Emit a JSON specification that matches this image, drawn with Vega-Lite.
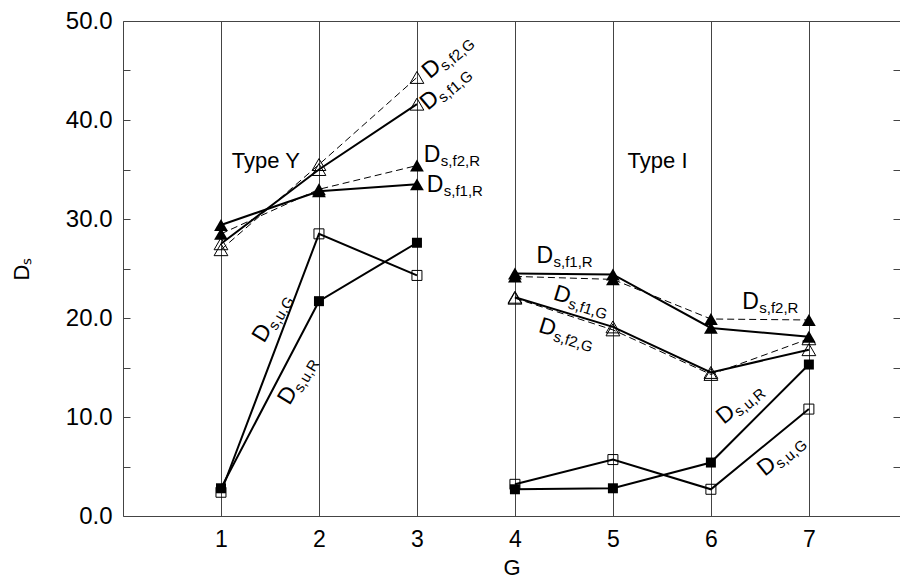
{
  "$schema": "https://vega.github.io/schema/vega-lite/v6.json",
  "width": 777,
  "height": 495,
  "autosize": {"type": "none"},
  "padding": {"left": 123, "top": 21, "right": 0, "bottom": 65},
  "background": "white",
  "config": {
    "view": {"stroke": "#444444", "strokeWidth": 1},
    "font": "Liberation Sans",
    "text": {"font": "Liberation Sans", "color": "black"}
  },
  "datasets": {
    "pts": [
      {"G": 1, "v": 29.4, "series": "f1R", "type": "Y"},
      {"G": 2, "v": 32.8, "series": "f1R", "type": "Y"},
      {"G": 3, "v": 33.5, "series": "f1R", "type": "Y"},
      {"G": 1, "v": 28.5, "series": "f2R", "type": "Y"},
      {"G": 2, "v": 33.0, "series": "f2R", "type": "Y"},
      {"G": 3, "v": 35.4, "series": "f2R", "type": "Y"},
      {"G": 1, "v": 27.5, "series": "f1G", "type": "Y"},
      {"G": 2, "v": 35.0, "series": "f1G", "type": "Y"},
      {"G": 3, "v": 41.6, "series": "f1G", "type": "Y"},
      {"G": 1, "v": 26.9, "series": "f2G", "type": "Y"},
      {"G": 2, "v": 35.5, "series": "f2G", "type": "Y"},
      {"G": 3, "v": 44.3, "series": "f2G", "type": "Y"},
      {"G": 1, "v": 2.8, "series": "uR", "type": "Y"},
      {"G": 2, "v": 21.7, "series": "uR", "type": "Y"},
      {"G": 3, "v": 27.6, "series": "uR", "type": "Y"},
      {"G": 1, "v": 2.4, "series": "uG", "type": "Y"},
      {"G": 2, "v": 28.5, "series": "uG", "type": "Y"},
      {"G": 3, "v": 24.3, "series": "uG", "type": "Y"},
      {"G": 4, "v": 24.5, "series": "f1R", "type": "I"},
      {"G": 5, "v": 24.4, "series": "f1R", "type": "I"},
      {"G": 6, "v": 19.0, "series": "f1R", "type": "I"},
      {"G": 7, "v": 18.1, "series": "f1R", "type": "I"},
      {"G": 4, "v": 24.2, "series": "f2R", "type": "I"},
      {"G": 5, "v": 23.9, "series": "f2R", "type": "I"},
      {"G": 6, "v": 19.9, "series": "f2R", "type": "I"},
      {"G": 7, "v": 19.8, "series": "f2R", "type": "I"},
      {"G": 4, "v": 22.1, "series": "f1G", "type": "I"},
      {"G": 5, "v": 19.1, "series": "f1G", "type": "I"},
      {"G": 6, "v": 14.5, "series": "f1G", "type": "I"},
      {"G": 7, "v": 16.8, "series": "f1G", "type": "I"},
      {"G": 4, "v": 22.0, "series": "f2G", "type": "I"},
      {"G": 5, "v": 18.8, "series": "f2G", "type": "I"},
      {"G": 6, "v": 14.3, "series": "f2G", "type": "I"},
      {"G": 7, "v": 17.9, "series": "f2G", "type": "I"},
      {"G": 4, "v": 2.7, "series": "uR", "type": "I"},
      {"G": 5, "v": 2.8, "series": "uR", "type": "I"},
      {"G": 6, "v": 5.4, "series": "uR", "type": "I"},
      {"G": 7, "v": 15.3, "series": "uR", "type": "I"},
      {"G": 4, "v": 3.2, "series": "uG", "type": "I"},
      {"G": 5, "v": 5.7, "series": "uG", "type": "I"},
      {"G": 6, "v": 2.7, "series": "uG", "type": "I"},
      {"G": 7, "v": 10.8, "series": "uG", "type": "I"}
    ],
    "labs": [
      {"G": 3.13, "v": 44.1, "sub": "s,f2,G", "grp": "a"},
      {"G": 3.11, "v": 40.9, "sub": "s,f1,G", "grp": "a"},
      {"G": 3.07, "v": 35.75, "sub": "s,f2,R", "grp": "h"},
      {"G": 3.10, "v": 32.7, "sub": "s,f1,R", "grp": "h"},
      {"G": 1.44, "v": 17.4, "sub": "s,u,G", "grp": "b"},
      {"G": 1.70, "v": 11.1, "sub": "s,u,R", "grp": "b"},
      {"G": 4.22, "v": 25.55, "sub": "s,f1,R", "grp": "h"},
      {"G": 4.38, "v": 21.9, "sub": "s,f1,G", "grp": "c"},
      {"G": 4.23, "v": 18.6, "sub": "s,f2,G", "grp": "c"},
      {"G": 6.32, "v": 20.9, "sub": "s,f2,R", "grp": "h"},
      {"G": 6.13, "v": 9.2, "sub": "s,u,R", "grp": "d"},
      {"G": 6.55, "v": 3.95, "sub": "s,u,G", "grp": "d"}
    ],
    "types": [
      {"G": 1.11, "v": 35.15, "t": "Type Y"},
      {"G": 5.15, "v": 35.15, "t": "Type I"}
    ]
  },
  "layer": [
    {
      "data": {"name": "pts"},
      "transform": [{"filter": {"field": "series", "oneOf": ["f1R", "f1G", "uR", "uG"]}}],
      "mark": {"type": "line", "color": "black", "strokeWidth": 2},
      "encoding": {
        "x": {"field": "G", "type": "quantitative",
          "scale": {"domain": [0, 7.93], "nice": false, "zero": false},
          "axis": {"values": [1, 2, 3, 4, 5, 6, 7], "format": "d", "grid": true, "gridColor": "#444444", "gridWidth": 1, "gridOpacity": 1,
            "ticks": false, "domain": false, "labelFont": "Liberation Sans", "labelFontSize": 23, "labelColor": "black", "labelPadding": 12,
            "title": "G", "titleFont": "Liberation Sans", "titleFontSize": 22, "titleFontWeight": "normal", "titleColor": "black", "titlePadding": 6}},
        "y": {"field": "v", "type": "quantitative",
          "scale": {"domain": [0, 50], "nice": false},
          "axis": {"orient": "left", "values": [0, 5, 10, 15, 20, 25, 30, 35, 40, 45, 50],
            "labelExpr": "datum.value % 10 === 0 ? format(datum.value, '.1f') : ''",
            "grid": false, "domain": false, "ticks": true, "tickSize": -7, "tickColor": "#444444", "tickWidth": 1,
            "labelFont": "Liberation Sans", "labelFontSize": 24, "labelColor": "black", "labelPadding": 18,
            "title": "Dₛ", "titleFont": "Liberation Sans", "titleFontSize": 22, "titleFontWeight": "normal", "titleColor": "black", "titlePadding": 32}},
        "detail": [{"field": "series"}, {"field": "type"}]
      }
    },
    {
      "data": {"name": "pts"},
      "transform": [{"filter": {"field": "series", "oneOf": ["f2R", "f2G"]}}],
      "mark": {"type": "line", "color": "black", "strokeWidth": 1, "strokeDash": [7, 4]},
      "encoding": {
        "x": {"field": "G", "type": "quantitative"},
        "y": {"field": "v", "type": "quantitative", "axis": null},
        "detail": [{"field": "series"}, {"field": "type"}]
      }
    },
    {
      "data": {"name": "pts"},
      "transform": [{"filter": {"field": "series", "oneOf": ["f1R", "f2R"]}}],
      "mark": {"type": "point", "shape": "triangle-up", "filled": true, "color": "black", "size": 190, "opacity": 1},
      "encoding": {
        "x": {"field": "G", "type": "quantitative"},
        "y": {"field": "v", "type": "quantitative", "axis": null}
      }
    },
    {
      "data": {"name": "pts"},
      "transform": [{"filter": {"field": "series", "oneOf": ["f1G", "f2G"]}}],
      "mark": {"type": "point", "shape": "triangle-up", "filled": false, "stroke": "black", "strokeWidth": 1, "size": 190, "opacity": 1},
      "encoding": {
        "x": {"field": "G", "type": "quantitative"},
        "y": {"field": "v", "type": "quantitative", "axis": null}
      }
    },
    {
      "data": {"name": "pts"},
      "transform": [{"filter": {"field": "series", "equal": "uR"}}],
      "mark": {"type": "point", "shape": "square", "filled": true, "color": "black", "size": 100, "opacity": 1},
      "encoding": {
        "x": {"field": "G", "type": "quantitative"},
        "y": {"field": "v", "type": "quantitative", "axis": null}
      }
    },
    {
      "data": {"name": "pts"},
      "transform": [{"filter": {"field": "series", "equal": "uG"}}],
      "mark": {"type": "point", "shape": "square", "filled": false, "stroke": "black", "strokeWidth": 1, "size": 100, "opacity": 1},
      "encoding": {
        "x": {"field": "G", "type": "quantitative"},
        "y": {"field": "v", "type": "quantitative",
          "axis": {"orient": "right", "values": [0, 5, 10, 15, 20, 25, 30, 35, 40, 45, 50], "labels": false, "title": null,
            "grid": false, "domain": false, "ticks": true, "tickSize": -7, "tickColor": "#444444", "tickWidth": 1}}
      }
    },
    {
      "data": {"name": "labs"},
      "transform": [{"filter": {"field": "grp", "equal": "h"}}],
      "mark": {"type": "text", "align": "left", "baseline": "alphabetic", "fontSize": 23, "text": "D", "angle": 0},
      "encoding": {"x": {"field": "G", "type": "quantitative"}, "y": {"field": "v", "type": "quantitative", "axis": null}}
    },
    {
      "data": {"name": "labs"},
      "transform": [{"filter": {"field": "grp", "equal": "h"}}],
      "mark": {"type": "text", "align": "left", "baseline": "alphabetic", "fontSize": 15, "dx": 17, "dy": 4, "angle": 0},
      "encoding": {"x": {"field": "G", "type": "quantitative"}, "y": {"field": "v", "type": "quantitative", "axis": null}, "text": {"field": "sub"}}
    },
    {
      "data": {"name": "labs"},
      "transform": [{"filter": {"field": "grp", "equal": "a"}}],
      "mark": {"type": "text", "align": "left", "baseline": "alphabetic", "fontSize": 23, "text": "D", "angle": 320},
      "encoding": {"x": {"field": "G", "type": "quantitative"}, "y": {"field": "v", "type": "quantitative", "axis": null}}
    },
    {
      "data": {"name": "labs"},
      "transform": [{"filter": {"field": "grp", "equal": "a"}}],
      "mark": {"type": "text", "align": "left", "baseline": "alphabetic", "fontSize": 15, "dx": 17, "dy": 4, "angle": 320},
      "encoding": {"x": {"field": "G", "type": "quantitative"}, "y": {"field": "v", "type": "quantitative", "axis": null}, "text": {"field": "sub"}}
    },
    {
      "data": {"name": "labs"},
      "transform": [{"filter": {"field": "grp", "equal": "b"}}],
      "mark": {"type": "text", "align": "left", "baseline": "alphabetic", "fontSize": 23, "text": "D", "angle": 301},
      "encoding": {"x": {"field": "G", "type": "quantitative"}, "y": {"field": "v", "type": "quantitative", "axis": null}}
    },
    {
      "data": {"name": "labs"},
      "transform": [{"filter": {"field": "grp", "equal": "b"}}],
      "mark": {"type": "text", "align": "left", "baseline": "alphabetic", "fontSize": 15, "dx": 17, "dy": 4, "angle": 301},
      "encoding": {"x": {"field": "G", "type": "quantitative"}, "y": {"field": "v", "type": "quantitative", "axis": null}, "text": {"field": "sub"}}
    },
    {
      "data": {"name": "labs"},
      "transform": [{"filter": {"field": "grp", "equal": "c"}}],
      "mark": {"type": "text", "align": "left", "baseline": "alphabetic", "fontSize": 23, "text": "D", "angle": 17},
      "encoding": {"x": {"field": "G", "type": "quantitative"}, "y": {"field": "v", "type": "quantitative", "axis": null}}
    },
    {
      "data": {"name": "labs"},
      "transform": [{"filter": {"field": "grp", "equal": "c"}}],
      "mark": {"type": "text", "align": "left", "baseline": "alphabetic", "fontSize": 15, "dx": 17, "dy": 4, "angle": 17},
      "encoding": {"x": {"field": "G", "type": "quantitative"}, "y": {"field": "v", "type": "quantitative", "axis": null}, "text": {"field": "sub"}}
    },
    {
      "data": {"name": "labs"},
      "transform": [{"filter": {"field": "grp", "equal": "d"}}],
      "mark": {"type": "text", "align": "left", "baseline": "alphabetic", "fontSize": 23, "text": "D", "angle": 321},
      "encoding": {"x": {"field": "G", "type": "quantitative"}, "y": {"field": "v", "type": "quantitative", "axis": null}}
    },
    {
      "data": {"name": "labs"},
      "transform": [{"filter": {"field": "grp", "equal": "d"}}],
      "mark": {"type": "text", "align": "left", "baseline": "alphabetic", "fontSize": 15, "dx": 17, "dy": 4, "angle": 321},
      "encoding": {"x": {"field": "G", "type": "quantitative"}, "y": {"field": "v", "type": "quantitative", "axis": null}, "text": {"field": "sub"}}
    },
    {
      "data": {"name": "types"},
      "mark": {"type": "text", "align": "left", "baseline": "alphabetic", "fontSize": 22},
      "encoding": {
        "x": {"field": "G", "type": "quantitative"},
        "y": {"field": "v", "type": "quantitative", "axis": null},
        "text": {"field": "t"}
      }
    }
  ],
  "resolve": {"axis": {"y": "independent"}}
}
